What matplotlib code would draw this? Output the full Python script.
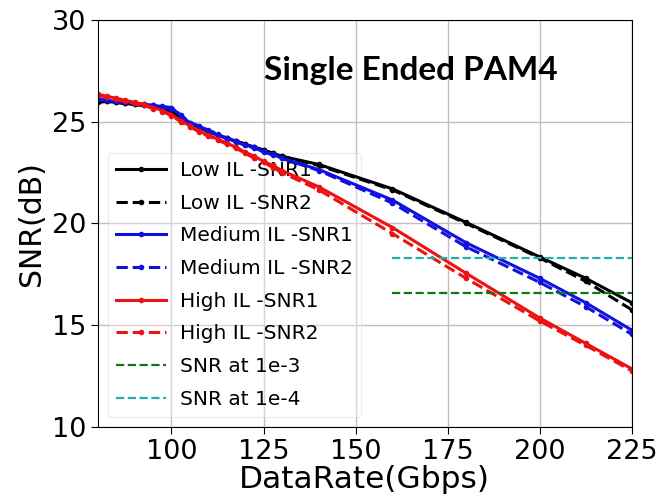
import matplotlib
matplotlib.use("Agg")
import matplotlib.pyplot as plt

rate = [80, 82.5, 85, 87.5, 90, 92.5, 95, 97.5, 100, 102.5, 105, 107.5, 110, 112.5,
        115, 117.5, 120, 122.5, 125, 127.5, 130, 140, 160, 180, 200, 212.5, 225]

low_snr1 = [26.0, 26.0, 25.95, 25.9, 25.85, 25.8, 25.75, 25.65, 25.5, 25.2, 24.9, 24.7,
            24.55, 24.35, 24.2, 24.05, 23.9, 23.75, 23.6, 23.45, 23.3, 22.9, 21.7, 20.05,
            18.35, 17.3, 16.1]
low_snr2 = [25.95, 26.0, 25.95, 25.9, 25.85, 25.8, 25.7, 25.65, 25.5, 25.2, 24.9, 24.7,
            24.5, 24.35, 24.2, 24.05, 23.9, 23.75, 23.6, 23.45, 23.3, 22.85, 21.65, 20.0,
            18.3, 17.15, 15.75]
med_snr1 = [26.1, 26.05, 26.0, 25.95, 25.9, 25.85, 25.8, 25.75, 25.7, 25.3, 24.95, 24.8,
            24.55, 24.35, 24.2, 24.0, 23.85, 23.75, 23.5, 23.4, 23.2, 22.65, 21.15, 19.05,
            17.3, 16.1, 14.75]
med_snr2 = [26.1, 26.05, 26.0, 25.95, 25.9, 25.85, 25.8, 25.7, 25.65, 25.35, 24.95, 24.75,
            24.6, 24.4, 24.15, 24.05, 23.85, 23.7, 23.55, 23.35, 23.2, 22.6, 21.0, 18.85,
            17.1, 15.9, 14.55]
high_snr1 = [26.35, 26.25, 26.15, 26.05, 25.95, 25.85, 25.7, 25.55, 25.35, 25.05, 24.8,
             24.55, 24.35, 24.15, 23.95, 23.75, 23.5, 23.3, 23.05, 22.85, 22.6, 21.8, 19.8,
             17.55, 15.35, 14.1, 12.85]
high_snr2 = [26.3, 26.2, 26.1, 26.0, 25.9, 25.8, 25.65, 25.5, 25.3, 25.0, 24.75, 24.5,
             24.3, 24.1, 23.9, 23.7, 23.45, 23.2, 23.0, 22.75, 22.5, 21.65, 19.5, 17.3,
             15.2, 14.0, 12.75]

thr_x = [160, 225]
snr_1e3 = 16.6
snr_1e4 = 18.3

fig = plt.figure(figsize=(6.61, 5.01), dpi=100)
ax = fig.add_axes([0.148, 0.148, 0.808, 0.812])

lw = 2.2
ms = 6
ax.plot(rate, low_snr1, '-', color='black', marker='.', lw=lw, ms=ms, label='Low IL -SNR1')
ax.plot(rate, low_snr2, '--', color='black', marker='.', lw=lw, ms=ms, label='Low IL -SNR2')
ax.plot(rate, med_snr1, '-', color='#1010e0', marker='.', lw=lw, ms=ms, label='Medium IL -SNR1')
ax.plot(rate, med_snr2, '--', color='#1010e0', marker='.', lw=lw, ms=ms, label='Medium IL -SNR2')
ax.plot(rate, high_snr1, '-', color='#ee1111', marker='.', lw=lw, ms=ms, label='High IL -SNR1')
ax.plot(rate, high_snr2, '--', color='#ee1111', marker='.', lw=lw, ms=ms, label='High IL -SNR2')
ax.plot(thr_x, [snr_1e3, snr_1e3], '--', color='#117711', lw=1.6, label='SNR at 1e-3')
ax.plot(thr_x, [snr_1e4, snr_1e4], '--', color='#22b0a8', lw=1.6, label='SNR at 1e-4')

ax.set_xlim(80, 225)
ax.set_ylim(10, 30)
ax.set_xticks([100, 125, 150, 175, 200, 225])
ax.set_yticks([10, 15, 20, 25, 30])
ax.tick_params(labelsize=19.5, length=5)
ax.grid(True, color='#c0c0c0', lw=1)
ax.set_xlabel('DataRate(Gbps)', fontsize=22.5, labelpad=0)
ax.set_ylabel('SNR(dB)', fontsize=21.5, labelpad=4)

ax.text(0.586, 0.877, 'Single Ended PAM4', transform=ax.transAxes, ha='center', va='center',
        fontsize=24, fontweight='bold', family='Lato')

leg = ax.legend(loc='lower left', fontsize=14.5, labelspacing=0.68, handlelength=2.5,
                handletextpad=0.7, borderaxespad=0.5, framealpha=0.35)
leg.set_zorder(1.5)

fig.savefig('out.png', dpi=100)
